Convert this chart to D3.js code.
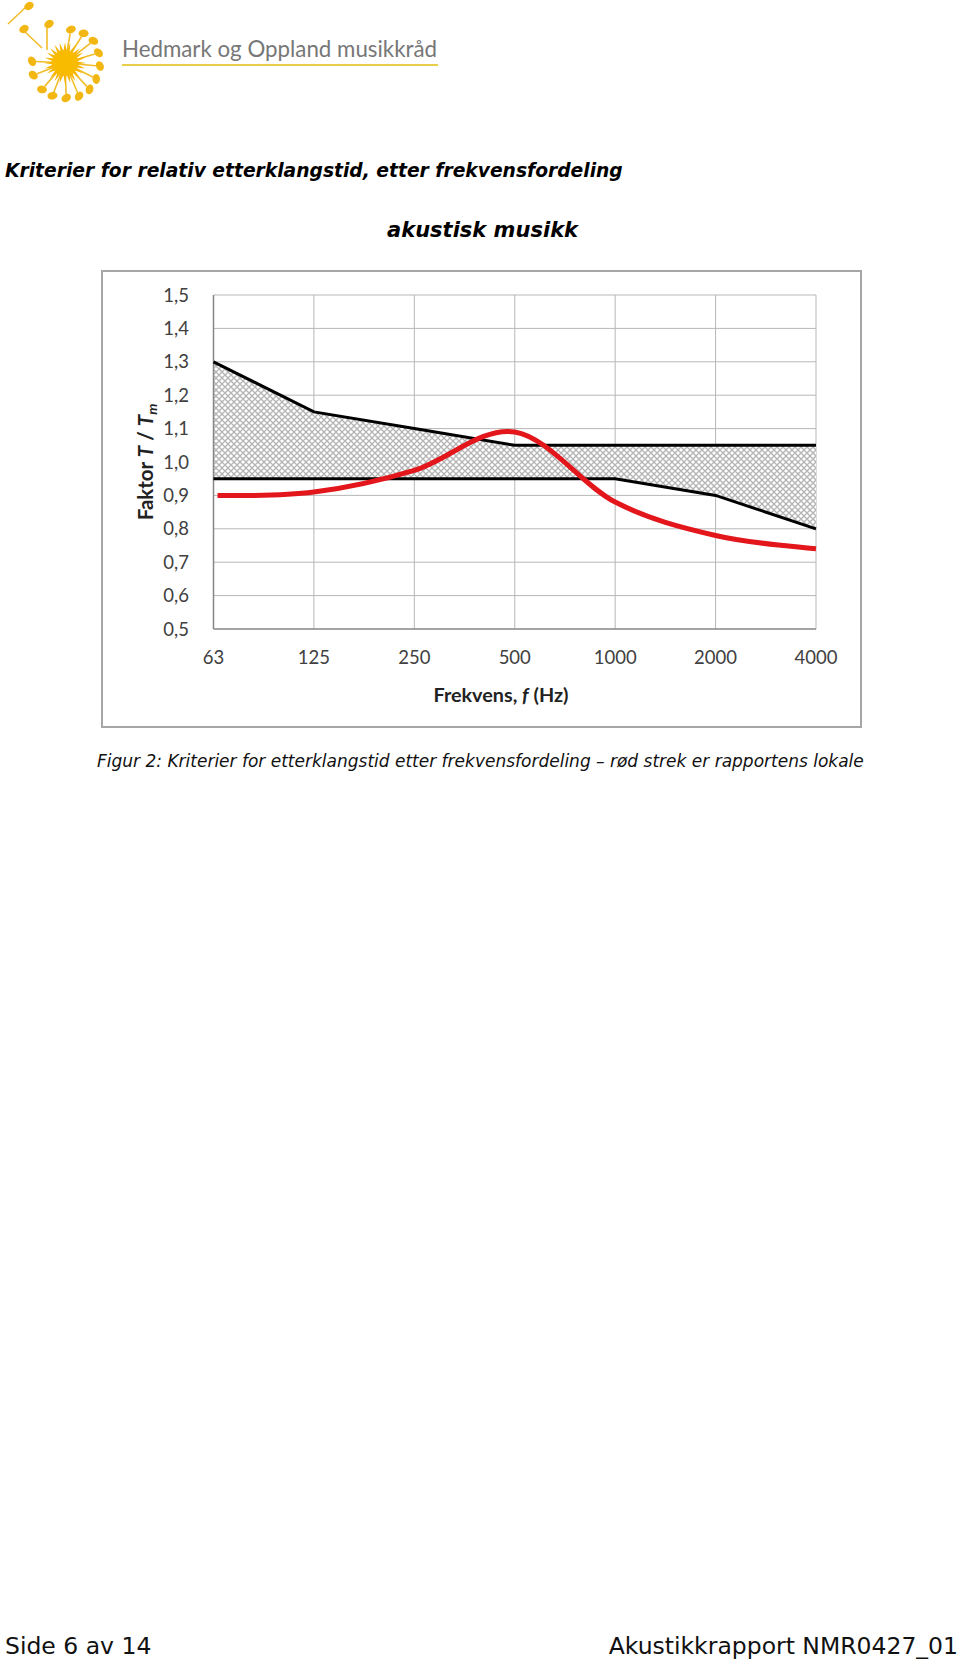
<!DOCTYPE html>
<html>
<head>
<meta charset="utf-8">
<script src="https://cdn.jsdelivr.net/npm/d3@7"></script>
<style>
  body { margin: 0; background: #fff; }
  svg { display: block; }
</style>
</head>
<body>
<svg width="960" height="1661"></svg>
<script>
// chart values
const freqLabels = ['63', '125', '250', '500', '1000', '2000', '4000'];
const upperLimit = [1.30, 1.15, 1.10, 1.05, 1.05, 1.05, 1.05];
const lowerLimit = [0.95, 0.95, 0.95, 0.95, 0.95, 0.90, 0.80];
const measured   = [0.90, 0.91, 0.975, 1.09, 0.88, 0.78, 0.74];
const yTicks     = [0.5, 0.6, 0.7, 0.8, 0.9, 1.0, 1.1, 1.2, 1.3, 1.4, 1.5];

const svg = d3.select('svg');

// ---- logo ----
const logo = svg.append('g');
const sunC = [65, 63];
// note heads around the sun (angle in degrees, radius)
const notes = [[-80, 34], [-58, 35], [-38, 36], [-17, 35], [5, 35], [27, 35], [47, 36], [67, 36],
  [88, 35], [111, 35], [131, 35], [159, 34], [183, 33]];
logo.selectAll('line.stem').data(notes).enter().append('line')
  .attr('x1', sunC[0]).attr('y1', sunC[1])
  .attr('x2', d => sunC[0] + Math.cos(d[0] * Math.PI / 180) * (d[1] - 4))
  .attr('y2', d => sunC[1] + Math.sin(d[0] * Math.PI / 180) * (d[1] - 4))
  .attr('stroke', '#f2bd2a').attr('stroke-width', 1.6);
logo.selectAll('ellipse.head').data(notes).enter().append('ellipse')
  .attr('cx', d => sunC[0] + Math.cos(d[0] * Math.PI / 180) * d[1])
  .attr('cy', d => sunC[1] + Math.sin(d[0] * Math.PI / 180) * d[1])
  .attr('rx', 5).attr('ry', 3.8)
  .attr('transform', d => `rotate(${d[0] + 60},${sunC[0] + Math.cos(d[0] * Math.PI / 180) * d[1]},${sunC[1] + Math.sin(d[0] * Math.PI / 180) * d[1]})`)
  .attr('fill', '#f2b713');
// loose notes top left
const loose = [[[47, 50], [47, 24]], [[42, 48], [22, 29]], [[8, 24], [27, 6]]];
loose.forEach(s => {
  logo.append('line').attr('x1', s[0][0]).attr('y1', s[0][1]).attr('x2', s[1][0]).attr('y2', s[1][1])
    .attr('stroke', '#f2bd2a').attr('stroke-width', 1.6);
  logo.append('ellipse').attr('cx', s[1][0] + 2).attr('cy', s[1][1]).attr('rx', 5).attr('ry', 3.8)
    .attr('transform', `rotate(-30,${s[1][0] + 2},${s[1][1]})`).attr('fill', '#f2b713');
});
// spiky core
const spikes = d3.range(48).map(i => {
  const a = i / 48 * 2 * Math.PI;
  const r = i % 2 ? 12 : 21;
  return [sunC[0] + Math.cos(a) * r, sunC[1] + Math.sin(a) * r];
});
logo.append('path').attr('d', d3.line()(spikes) + 'Z').attr('fill', '#f7b500');
logo.append('circle').attr('cx', sunC[0]).attr('cy', sunC[1]).attr('r', 13).attr('fill', '#f9bb00');

logo.append('text').attr('x', 122).attr('y', 57)
  .attr('font-family', 'Lato, sans-serif').attr('font-size', 24).attr('fill', '#777')
  .attr('textLength', 315).attr('lengthAdjust', 'spacingAndGlyphs')
  .text('Hedmark og Oppland musikkråd');
logo.append('line').attr('x1', 122).attr('x2', 438).attr('y1', 65).attr('y2', 65)
  .attr('stroke', '#e9cd4c').attr('stroke-width', 2);

// ---- headings ----
svg.append('text').attr('x', 5).attr('y', 177)
  .attr('font-family', 'DejaVu Sans, Verdana, sans-serif').attr('font-weight', 'bold').attr('font-style', 'italic')
  .attr('font-size', 18.7).text('Kriterier for relativ etterklangstid, etter frekvensfordeling');
svg.append('text').attr('x', 387).attr('y', 237)
  .attr('font-family', 'DejaVu Sans, Verdana, sans-serif').attr('font-weight', 'bold').attr('font-style', 'italic')
  .attr('font-size', 21).text('akustisk musikk');

// ---- chart frame ----
svg.append('rect').attr('x', 102).attr('y', 271).attr('width', 759).attr('height', 456)
  .attr('fill', '#fff').attr('stroke', '#a6a6a6').attr('stroke-width', 2);

const x = d3.scalePoint().domain(freqLabels).range([213.5, 816]);
const y = d3.scaleLinear().domain([0.5, 1.5]).range([629, 295]);

const defs = svg.append('defs');
const pat = defs.append('pattern').attr('id', 'hatch').attr('width', 6).attr('height', 6)
  .attr('patternUnits', 'userSpaceOnUse');
pat.append('rect').attr('width', 6).attr('height', 6).attr('fill', '#fff');
pat.append('path').attr('d', 'M-1,-1L7,7M7,-1L-1,7M-4,2L2,-4M4,8L8,4M-4,4L2,10M4,-2L10,4')
  .attr('stroke', '#b3b3b3').attr('stroke-width', 1.3);

const g = svg.append('g');

// gridlines
g.selectAll('line.hgrid').data(yTicks.slice(1)).enter().append('line')
  .attr('x1', x('63')).attr('x2', x('4000'))
  .attr('y1', d => y(d)).attr('y2', d => y(d))
  .attr('stroke', '#b7b7b7').attr('stroke-width', 1);
g.selectAll('line.vgrid').data(freqLabels.slice(1)).enter().append('line')
  .attr('x1', d => x(d)).attr('x2', d => x(d))
  .attr('y1', y(1.5)).attr('y2', y(0.5))
  .attr('stroke', '#b7b7b7').attr('stroke-width', 1);

// hatched band between the limits
const band = freqLabels.map((f, i) => ({ f, lo: lowerLimit[i], hi: upperLimit[i] }));
g.append('path').datum(band)
  .attr('d', d3.area().x(d => x(d.f)).y0(d => y(d.lo)).y1(d => y(d.hi)))
  .attr('fill', 'url(#hatch)');

// axis lines
g.append('line').attr('x1', x('63')).attr('x2', x('63')).attr('y1', y(1.5)).attr('y2', y(0.5))
  .attr('stroke', '#868686').attr('stroke-width', 1.5);
g.append('line').attr('x1', x('63')).attr('x2', x('4000')).attr('y1', y(0.5)).attr('y2', y(0.5))
  .attr('stroke', '#868686').attr('stroke-width', 1.5);

// limit lines
const lim = d3.line().x((d, i) => x(freqLabels[i])).y(d => y(d));
[upperLimit, lowerLimit].forEach(arr => {
  g.append('path').datum(arr).attr('d', lim)
    .attr('fill', 'none').attr('stroke', '#000').attr('stroke-width', 3);
});

// measured curve
g.append('path').datum(measured)
  .attr('d', d3.line().x((d, i) => x(freqLabels[i]) + (i === 0 ? 4 : 0)).y(d => y(d)).curve(d3.curveCardinal.tension(0)))
  .attr('fill', 'none').attr('stroke', '#e3161b').attr('stroke-width', 5);

// tick labels
const fmt = d => d.toFixed(1).replace('.', ',');
g.selectAll('text.ylab').data(yTicks).enter().append('text')
  .attr('x', 189).attr('y', d => y(d) + 6.5)
  .attr('text-anchor', 'end')
  .attr('font-family', 'Lato, sans-serif').attr('font-size', 18.5).attr('fill', '#404040')
  .text(fmt);
g.selectAll('text.xlab').data(freqLabels).enter().append('text')
  .attr('x', d => x(d)).attr('y', 664)
  .attr('text-anchor', 'middle')
  .attr('font-family', 'Lato, sans-serif').attr('font-size', 18.5).attr('fill', '#404040')
  .text(d => d);

// axis titles
const xt = g.append('text').attr('x', 501).attr('y', 702).attr('text-anchor', 'middle')
  .attr('font-family', 'Lato, sans-serif').attr('font-weight', 'bold').attr('font-size', 19.8).attr('fill', '#222');
xt.append('tspan').text('Frekvens, ');
xt.append('tspan').attr('font-style', 'italic').text('f');
xt.append('tspan').text(' (Hz)');

const yt = g.append('text').attr('transform', 'translate(153,462) rotate(-90)').attr('text-anchor', 'middle')
  .attr('font-family', 'Lato, sans-serif').attr('font-weight', 'bold').attr('font-size', 20.5).attr('fill', '#222');
yt.append('tspan').text('Faktor ');
yt.append('tspan').attr('font-style', 'italic').text('T');
yt.append('tspan').text(' / ');
yt.append('tspan').attr('font-style', 'italic').text('T');
yt.append('tspan').attr('font-style', 'italic').attr('font-size', 14).attr('dy', 4).text('m');

// caption
svg.append('text').attr('x', 97).attr('y', 767)
  .attr('font-family', 'DejaVu Sans, Verdana, sans-serif').attr('font-style', 'italic')
  .attr('font-size', 17).attr('fill', '#111')
  .text('Figur 2: Kriterier for etterklangstid etter frekvensfordeling \u2013 rød strek er rapportens lokale');

// footer
svg.append('text').attr('x', 5).attr('y', 1654)
  .attr('font-family', 'DejaVu Sans, Verdana, sans-serif').attr('font-size', 23.5).attr('fill', '#111')
  .text('Side 6 av 14');
svg.append('text').attr('x', 958).attr('y', 1654).attr('text-anchor', 'end')
  .attr('font-family', 'DejaVu Sans, Verdana, sans-serif').attr('font-size', 23.5).attr('fill', '#111')
  .text('Akustikkrapport NMR0427_01');
</script>
</body>
</html>
